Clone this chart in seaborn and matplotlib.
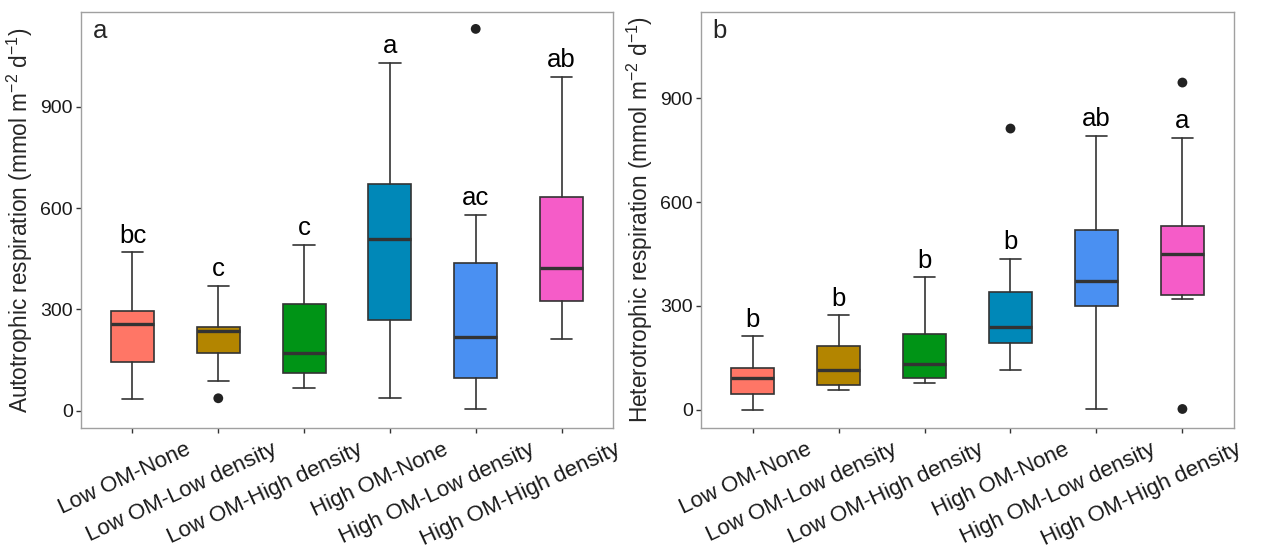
import matplotlib
matplotlib.use("Agg")
import matplotlib.pyplot as plt
import matplotlib.transforms as mtransforms
import seaborn as sns

# ---------------- data ----------------
categories = ["Low OM-None", "Low OM-Low density", "Low OM-High density",
              "High OM-None", "High OM-Low density", "High OM-High density"]
colors = ["#FF7666", "#B38500", "#009416", "#0088B8", "#4A90F2", "#F55CC8"]

# Panel a: Autotrophic respiration
a_whislo = [35, 89, 66, 38, 4, 213]
a_q1     = [143, 170, 111, 269, 97, 324]
a_med    = [258, 237, 172, 508, 217, 423]
a_q3     = [295, 249, 315, 671, 437, 632]
a_whishi = [469, 369, 492, 1030, 579, 988]
a_fliers = [[], [37], [], [], [1130], []]
a_letters = ["bc", "c", "c", "a", "ac", "ab"]

# Panel b: Heterotrophic respiration
b_whislo = [0, 58, 77, 116, 2, 319]
b_q1     = [44, 70, 93, 194, 301, 331]
b_med    = [91, 114, 131, 240, 373, 450]
b_q3     = [120, 183, 220, 339, 519, 531]
b_whishi = [212, 273, 383, 437, 792, 787]
b_fliers = [[], [], [], [813], [], [946, 2]]
b_letters = ["b", "b", "b", "b", "ab", "a"]

yticks = [0, 300, 600, 900]

# ---------------- style ----------------
sns.set_theme(style="white")
plt.rcParams["font.family"] = ["Liberation Sans", "DejaVu Sans"]
plt.rcParams["mathtext.fontset"] = "custom"
plt.rcParams["mathtext.rm"] = "Liberation Sans"
plt.rcParams["mathtext.it"] = "Liberation Sans:italic"
plt.rcParams["mathtext.bf"] = "Liberation Sans:bold"

W, H = 1262, 550
fig = plt.figure(figsize=(W / 100, H / 100), dpi=100)
ax_a = fig.add_axes([81 / W, 1 - 428 / H, (613 - 81) / W, (428 - 12) / H])
ax_b = fig.add_axes([701 / W, 1 - 428 / H, (1234 - 701) / W, (428 - 12) / H])

edge = "#333333"


def draw_panel(ax, whislo, q1, med, q3, whishi, fliers, letters, ylabel, tag, ylim):
    stats = []
    for i in range(len(categories)):
        stats.append(dict(label=categories[i], whislo=whislo[i], q1=q1[i], med=med[i],
                          q3=q3[i], whishi=whishi[i], fliers=[]))
    pos = list(range(1, len(categories) + 1))
    bp = ax.bxp(stats, positions=pos, widths=0.5, patch_artist=True, showfliers=False,
                boxprops=dict(edgecolor=edge, linewidth=1.2),
                medianprops=dict(color=edge, linewidth=2.4, solid_capstyle="butt"),
                whiskerprops=dict(color=edge, linewidth=1.2),
                capprops=dict(color=edge, linewidth=1.2),
                capwidths=0.25)
    for patch, c in zip(bp["boxes"], colors):
        patch.set_facecolor(c)
    for med_line in bp["medians"]:
        med_line.set_zorder(5)

    # outliers
    fx, fy = [], []
    for i, fl in enumerate(fliers):
        for v in fl:
            fx.append(pos[i])
            fy.append(v)
    if fx:
        sns.scatterplot(x=fx, y=fy, ax=ax, color="#222222", s=50, edgecolor="none",
                        zorder=6, legend=False)

    # significance letters above whisker tops
    for i, lab in enumerate(letters):
        ax.annotate(lab, xy=(pos[i], whishi[i]), xytext=(0, 7), textcoords="offset points",
                    ha="center", va="baseline", fontsize=18.5, color="black")

    # panel tag
    ax.text(0.022, 0.937, tag, transform=ax.transAxes, fontsize=18.5, va="baseline", ha="left")

    ax.set_xlim(0.4, 6.6)
    ax.set_ylim(*ylim)
    ax.set_yticks(yticks)
    ax.set_yticklabels([str(t) for t in yticks])
    ax.set_xticks(pos)
    ax.set_xticklabels(categories)
    ax.set_ylabel(ylabel, fontsize=16.3, labelpad=4)
    ax.set_xlabel("")

    for s in ax.spines.values():
        s.set_color("#A0A0A0")
        s.set_linewidth(1.0)
        s.set_visible(True)
    ax.tick_params(axis="both", which="both", direction="out", length=3.8, width=1,
                   color="#333333", labelcolor="#1a1a1a", bottom=True, left=True)
    ax.tick_params(axis="y", labelsize=14, pad=2)
    ax.tick_params(axis="x", labelsize=16, pad=2)

    offset = mtransforms.ScaledTranslation(53 / 100, -3 / 100, fig.dpi_scale_trans)
    for lbl in ax.get_xticklabels():
        lbl.set_rotation(25)
        lbl.set_ha("right")
        lbl.set_va("top")
        lbl.set_rotation_mode("anchor")
        lbl.set_transform(lbl.get_transform() + offset)


draw_panel(ax_a, a_whislo, a_q1, a_med, a_q3, a_whishi, a_fliers, a_letters,
           r"Autotrophic respiration (mmol m$^{-2}$ d$^{-1}$)", "a", (-51, 1180))
draw_panel(ax_b, b_whislo, b_q1, b_med, b_q3, b_whishi, b_fliers, b_letters,
           r"Heterotrophic respiration (mmol m$^{-2}$ d$^{-1}$)", "b", (-53, 1150))

fig.savefig("out.png", dpi=100, facecolor="white")
